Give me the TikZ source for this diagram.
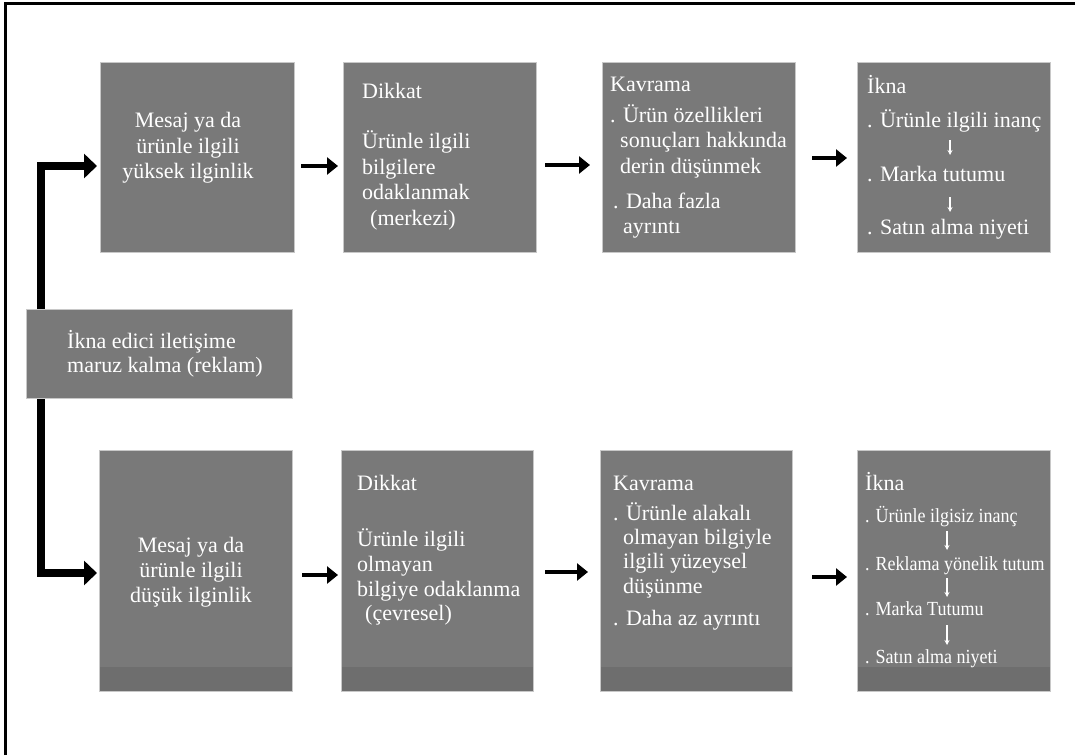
\documentclass[tikz,border=0pt]{standalone}
\usepackage{fontspec}
\setmainfont{Liberation Serif}
\newfontfamily\narrowserif{Liberation Serif}[FakeStretch=0.9]
\usetikzlibrary{arrows.meta}
\definecolor{boxfill}{RGB}{121,121,121}
\definecolor{bandfill}{RGB}{110,110,110}
\definecolor{boxedge}{RGB}{200,200,200}
\tikzset{
  box/.style={draw=boxedge, line width=0.8pt, fill=boxfill, inner sep=0pt,
    outer sep=0pt, anchor=north west},
  band/.style={path picture={\fill[bandfill] (path picture bounding box.south west)
    rectangle ([yshift=24pt]path picture bounding box.south east);}},
  tx/.style={text=white, font=\fontsize{22}{26}\selectfont, inner sep=0pt, anchor=base west},
  txc/.style={tx, anchor=base},
  txn/.style={tx, font=\narrowserif\fontsize{20}{24}\selectfont},
  spine/.style={line width=7.5pt, line join=miter, -{Triangle[length=13pt,width=24pt]}},
  flow/.style={line width=4pt, -{Triangle[length=11pt,width=17pt]}},
  down/.style={white, line width=1.3pt, -{Stealth[length=5pt,width=5pt]}},
  frame/.style={line width=3pt}
}
\begin{document}
\begin{tikzpicture}[x=1pt, y=-1pt]
\useasboundingbox (0,0) rectangle (1075,755);
\draw[frame] (5,755) -- (5,3.5) -- (1075,3.5);

% boxes
\node[box, minimum width=194pt, minimum height=190pt] (t1) at (100,62) {};
\node[box, minimum width=193pt, minimum height=190pt] (t2) at (343,62) {};
\node[box, minimum width=193pt, minimum height=190pt] (t3) at (602,62) {};
\node[box, minimum width=193pt, minimum height=190pt] (t4) at (857,62) {};
\node[box, band, minimum width=193pt, minimum height=241pt] (b1) at (99,450) {};
\node[box, band, minimum width=192pt, minimum height=241pt] (b2) at (341,450) {};
\node[box, band, minimum width=192pt, minimum height=241pt] (b3) at (600,450) {};
\node[box, band, minimum width=193pt, minimum height=241pt] (b4) at (857,450) {};

% branching connector behind the source box
\coordinate (spx) at (41,0);
\draw[spine, shorten >=3pt] (spx |- 0,309) |- ([yshift=-9pt]t1.west);
\draw[spine, shorten >=2pt] (spx |- 0,398) |- ([yshift=-2.5pt]b1.west);
\node[box, minimum width=266pt, minimum height=89pt] (src) at (26,309) {};

% arrows between stages
\draw[flow, shorten <=7pt, shorten >=5pt] ([yshift=-9pt]t1.east) -- ([yshift=-9pt]t2.west);
\draw[flow, shorten <=9pt, shorten >=12pt] ([yshift=-8pt]t2.east) -- ([yshift=-8pt]t3.west);
\draw[flow, shorten <=17pt, shorten >=10pt] ([yshift=-1pt]t3.east) -- ([yshift=-1pt]t4.west);
\draw[flow, shorten <=10pt, shorten >=3pt] ([yshift=-4.5pt]b1.east) -- ([yshift=-4.5pt]b2.west);
\draw[flow, shorten <=12pt, shorten >=12pt] ([yshift=-1.5pt]b2.east) -- ([yshift=-1.5pt]b3.west);
\draw[flow, shorten <=20pt, shorten >=10pt] ([yshift=-6.5pt]b3.east) -- ([yshift=-6.5pt]b4.west);

% source text
\node[tx] (s1) at (67,348) {İkna edici iletişime};
\node[tx] (s2) at (67,372) {maruz kalma (reklam)};

% upper route
\node[txc] (t1a) at (188,127) {Mesaj ya da};
\node[txc] (t1b) at (188,153) {ürünle ilgili};
\node[txc] (t1c) at (188,178) {yüksek ilginlik};

\node[tx] (t2a) at (362,98) {Dikkat};
\node[tx] (t2b) at (362,148) {Ürünle ilgili};
\node[tx] (t2c) at (362,174) {bilgilere};
\node[tx] (t2d) at (362,199) {odaklanmak};
\node[tx] (t2e) at (370,225) {(merkezi)};

\node[tx] (t3a) at (610,91) {Kavrama};
\node[tx] (t3b) at (610,122) {. Ürün özellikleri};
\node[tx] (t3c) at (620,147) {sonuçları hakkında};
\node[tx] (t3d) at (620,173) {derin düşünmek};
\node[tx] (t3e) at (613,208) {. Daha fazla};
\node[tx] (t3f) at (623,233) {ayrıntı};

\node[tx] (t4a) at (867,93) {İkna};
\node[tx] (t4b) at (867,127) {. Ürünle ilgili inanç};
\node[tx] (t4c) at (867,181) {. Marka tutumu};
\node[tx] (t4d) at (867,234) {. Satın alma niyeti};
\coordinate (u1) at (950,140); \coordinate (u2) at (950,155);
\coordinate (u3) at (950,197); \coordinate (u4) at (950,212);
\draw[down] (u1) -- (u2);
\draw[down] (u3) -- (u4);

% lower route
\node[txc] (b1a) at (191,552) {Mesaj ya da};
\node[txc] (b1b) at (191,577) {ürünle ilgili};
\node[txc] (b1c) at (191,602) {düşük ilginlik};

\node[tx] (b2a) at (357,490) {Dikkat};
\node[tx] (b2b) at (357,546) {Ürünle ilgili};
\node[tx] (b2c) at (357,571) {olmayan};
\node[tx] (b2d) at (357,596) {bilgiye odaklanma};
\node[tx] (b2e) at (365,620) {(çevresel)};

\node[tx] (b3a) at (613,490) {Kavrama};
\node[tx] (b3b) at (613,520) {. Ürünle alakalı};
\node[tx] (b3c) at (623,544) {olmayan bilgiyle};
\node[tx] (b3d) at (623,568) {ilgili yüzeysel};
\node[tx] (b3e) at (623,593) {düşünme};
\node[tx] (b3f) at (613,625) {. Daha az ayrıntı};

\node[tx] (b4a) at (865,490) {İkna};
\node[txn] (b4b) at (865,522) {. Ürünle ilgisiz inanç};
\node[txn] (b4c) at (865,570) {. Reklama yönelik tutum};
\node[txn] (b4d) at (865,615) {. Marka Tutumu};
\node[txn] (b4e) at (865,663) {. Satın alma niyeti};
\coordinate (v1) at (947,531); \coordinate (v2) at (947,550);
\coordinate (v3) at (947,578); \coordinate (v4) at (947,597);
\coordinate (v5) at (947,625); \coordinate (v6) at (947,645);
\draw[down] (v1) -- (v2);
\draw[down] (v3) -- (v4);
\draw[down] (v5) -- (v6);
\end{tikzpicture}
\end{document}
